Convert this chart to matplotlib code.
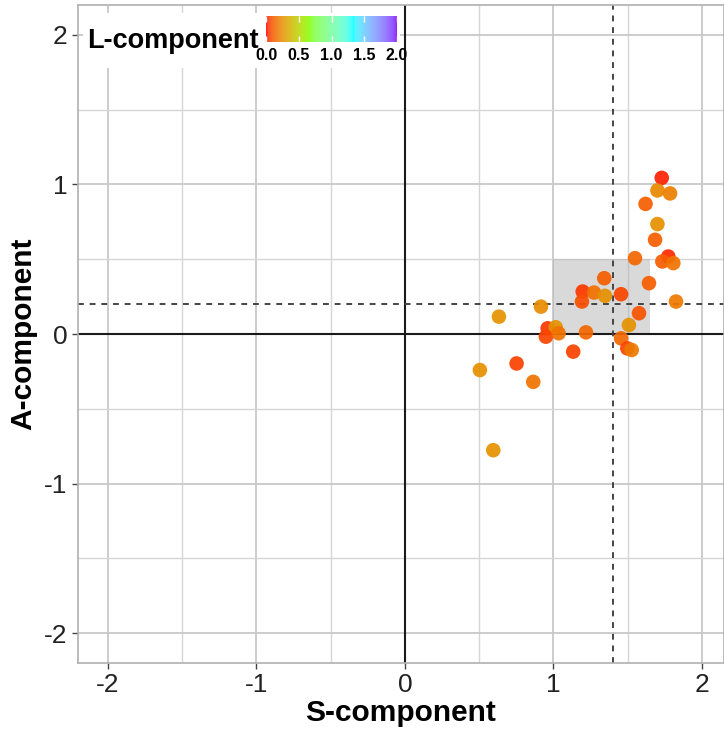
import matplotlib
matplotlib.use("Agg")
import matplotlib.pyplot as plt
import numpy as np
from matplotlib.colors import ListedColormap, Normalize
from matplotlib.patches import Rectangle
from matplotlib.cm import ScalarMappable

plt.rcParams['font.family'] = ['Liberation Sans', 'DejaVu Sans']
plt.rcParams['axes.unicode_minus'] = False

# S / A / L components of each sample
s_comp = [1.729, 1.700, 1.785, 1.620, 1.700, 1.684, 1.549, 1.773, 1.733, 1.807,
          1.643, 1.342, 1.197, 1.273, 1.347, 1.455, 1.192, 0.916, 1.825, 0.633,
          1.576, 1.508, 0.961, 1.015, 0.949, 1.035, 1.219, 1.455, 1.497, 1.527,
          1.133, 0.752, 0.505, 0.864, 0.595]
a_comp = [1.044, 0.960, 0.940, 0.870, 0.735, 0.630, 0.507, 0.518, 0.485, 0.474,
          0.340, 0.373, 0.284, 0.277, 0.255, 0.266, 0.217, 0.183, 0.217, 0.116,
          0.139, 0.060, 0.038, 0.045, -0.018, 0.005, 0.011, -0.029, -0.096, -0.107,
          -0.118, -0.197, -0.241, -0.320, -0.777]
l_comp = [0.02, 0.23, 0.20, 0.11, 0.25, 0.11, 0.14, 0.03, 0.11, 0.17,
          0.11, 0.11, 0.04, 0.16, 0.25, 0.07, 0.08, 0.24, 0.18, 0.26,
          0.09, 0.26, 0.04, 0.26, 0.07, 0.17, 0.14, 0.14, 0.07, 0.18,
          0.06, 0.06, 0.25, 0.17, 0.26]

s_cut = 1.4
a_cut = 0.2
box_s = (1.0, 1.65)
box_a = (0.0, 0.5)
l_ticks = [0.0, 0.5, 1.0, 1.5, 2.0]


# rainbow gradient interpolated in Lab space
def to_lab(rgb):
    rgb = np.asarray(rgb, float)
    lin = np.where(rgb <= 0.04045, rgb / 12.92, ((rgb + 0.055) / 1.055) ** 2.4)
    m = np.array([[0.4124, 0.3576, 0.1805],
                  [0.2126, 0.7152, 0.0722],
                  [0.0193, 0.1192, 0.9505]])
    xyz = lin @ m.T / np.array([0.95047, 1.0, 1.08883])
    f = np.where(xyz > 0.008856, np.cbrt(xyz), 7.787 * xyz + 16 / 116)
    return np.stack([116 * f[..., 1] - 16,
                     500 * (f[..., 0] - f[..., 1]),
                     200 * (f[..., 1] - f[..., 2])], axis=-1)


def from_lab(lab):
    fy = (lab[..., 0] + 16) / 116
    fx = fy + lab[..., 1] / 500
    fz = fy - lab[..., 2] / 200
    f = np.stack([fx, fy, fz], axis=-1)
    xyz = np.where(f > 0.2069, f ** 3, (f - 16 / 116) / 7.787)
    xyz = xyz * np.array([0.95047, 1.0, 1.08883])
    minv = np.array([[3.2406, -1.5372, -0.4986],
                     [-0.9689, 1.8758, 0.0415],
                     [0.0557, -0.2040, 1.0570]])
    lin = np.clip(xyz @ minv.T, 0, 1)
    rgb = np.where(lin <= 0.0031308, 12.92 * lin, 1.055 * lin ** (1 / 2.4) - 0.055)
    return np.clip(rgb, 0, 1)


anchors = to_lab([[1, 0, 0], [0.5, 1, 0], [0, 1, 1], [0.5, 0, 1]])
pos = np.linspace(0, 1, len(anchors))
t = np.linspace(0, 1, 256)
lab = np.stack([np.interp(t, pos, anchors[:, k]) for k in range(3)], axis=-1)
cmap = ListedColormap(from_lab(lab))
norm = Normalize(0, 2)

W, H = 724, 733
fig = plt.figure(figsize=(W / 100, H / 100), dpi=100)
ax = fig.add_axes([78 / W, 1 - 663 / H, (W - 78) / W, (663 - 5) / H])

ax.set_xlim(-2.2, 2.148)
ax.set_ylim(-2.2, 2.2)
ax.set_xticks([-2, -1, 0, 1, 2])
ax.set_yticks([-2, -1, 0, 1, 2])
ax.set_xticks(np.arange(-2, 2.1, 0.5), minor=True)
ax.set_yticks(np.arange(-2, 2.1, 0.5), minor=True)
ax.grid(which='major', color='#c8c8c8', lw=1.3, zorder=0)
ax.grid(which='minor', color='#d6d6d6', lw=1.0, zorder=0)
ax.set_axisbelow(True)
ax.tick_params(which='minor', length=0)
ax.tick_params(which='major', length=4.5, width=1, color='#444444',
               labelsize=19, labelcolor='#222222', pad=3)
for sp in ax.spines.values():
    sp.set_color('#b0b0b0')
    sp.set_linewidth(1.2)

ax.add_patch(Rectangle((box_s[0], box_a[0]), box_s[1] - box_s[0], box_a[1] - box_a[0],
                       facecolor='#b4b4b4', alpha=0.5, edgecolor='none', zorder=1))
ax.axhline(0, color='#1a1a1a', lw=1.5, zorder=2)
ax.axvline(0, color='#1a1a1a', lw=1.5, zorder=2)
ax.axhline(a_cut, color='#444444', lw=1.4, ls=(0, (3, 3)), zorder=2)
ax.axvline(s_cut, color='#444444', lw=1.4, ls=(0, (3, 3)), zorder=2)

ax.scatter(s_comp, a_comp, c=l_comp, cmap=cmap, norm=norm, s=110,
           alpha=0.92, edgecolors='none', zorder=3)

ax.set_xlabel('S-component', fontsize=21.5, fontweight='bold', labelpad=1)
ax.set_ylabel('A-component', fontsize=21.5, fontweight='bold', labelpad=5)

# legend: white box, title and colour bar
fig.patches.append(Rectangle((83 / W, 1 - 68 / H), (400 - 83) / W, (68 - 13) / H,
                             transform=fig.transFigure, facecolor='white',
                             edgecolor='none', zorder=2))
fig.text(87 / W, 1 - 41 / H, 'L-component', fontsize=19.5, fontweight='bold',
         va='center', ha='left', zorder=4)
cax = fig.add_axes([266 / W, 1 - 42 / H, 131 / W, 26 / H], zorder=3)
cb = fig.colorbar(ScalarMappable(norm=norm, cmap=cmap), cax=cax,
                  orientation='horizontal', ticks=l_ticks, alpha=0.85)
cb.outline.set_visible(False)
cax.tick_params(direction='in', length=4, color='white', width=1,
                top=True, labelsize=11.5, pad=4)
cax.set_xticklabels(['0.0', '0.5', '1.0', '1.5', '2.0'], fontweight='bold')

fig.savefig('out.png', dpi=100)
